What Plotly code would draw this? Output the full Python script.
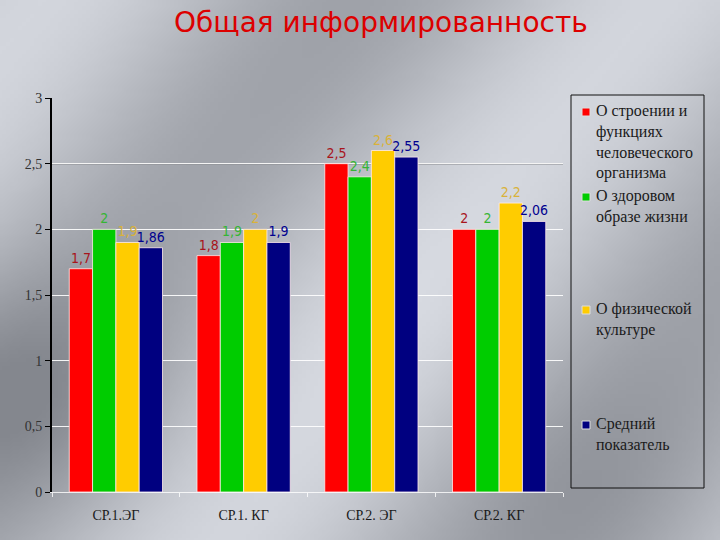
import base64, struct, zlib
import numpy as np
import plotly.graph_objects as go

categories = ["СР.1.ЭГ", "СР.1. КГ", "СР.2. ЭГ", "СР.2. КГ"]
series_names = ["О строении и функциях человеческого организма",
                "О здоровом образе жизни",
                "О физической культуре",
                "Средний показатель"]
legend_lines = [["О строении и", "функциях", "человеческого", "организма"],
                ["О здоровом", "образе жизни"],
                ["О физической", "культуре"],
                ["Средний", "показатель"]]
values = [
    [1.7, 1.8, 2.5, 2.0],
    [2.0, 1.9, 2.4, 2.0],
    [1.9, 2.0, 2.6, 2.2],
    [1.86, 1.9, 2.55, 2.06],
]
bar_colors = ["#FF0000", "#00CC00", "#FFCC00", "#000080"]
label_colors = ["#A8141C", "#35B535", "#D9B23A", "#00008F"]
y_ticks = [0, 0.5, 1, 1.5, 2, 2.5, 3]


def fmt(v):
    return ("%g" % v).replace(".", ",")


# metallic gradient background as an inline PNG
def make_bg(w=180, h=135):
    yy, xx = np.mgrid[0:h, 0:w]
    u = xx / w
    v = yy / h
    t = u * 0.9 + v * 0.55
    val = 188 + 26 * np.cos((t - 0.05) * 2 * np.pi * 1.3)
    val += -30 * np.exp(-(((u - 0.0) / 0.2) ** 2 + ((v - 0.72) / 0.22) ** 2))
    val += 6 * np.exp(-(((u - 0.45) / 0.25) ** 2 + ((v - 0.5) / 0.3) ** 2))
    val += -14 * np.exp(-(((u - 0.85) / 0.2) ** 2 + ((v - 0.95) / 0.25) ** 2))
    val = np.clip(val, 135, 228)
    r = val - 3
    g = val
    b = val + 7
    arr = np.stack([r, g, b], axis=-1).clip(0, 255).astype(np.uint8)
    raw = b"".join(b"\x00" + arr[i].tobytes() for i in range(h))

    def chunk(tag, data):
        c = struct.pack(">I", len(data)) + tag + data
        return c + struct.pack(">I", zlib.crc32(tag + data) & 0xFFFFFFFF)

    png = b"\x89PNG\r\n\x1a\n" + chunk(b"IHDR", struct.pack(">IIBBBBB", w, h, 8, 2, 0, 0, 0)) \
        + chunk(b"IDAT", zlib.compress(raw, 9)) + chunk(b"IEND", b"")
    return "data:image/png;base64," + base64.b64encode(png).decode()


W, H = 720, 540
L, R, T, B = 52, 157, 98, 48
pw, ph = W - L - R, H - T - B

fig = go.Figure()
for name, vals, col, lcol in zip(series_names, values, bar_colors, label_colors):
    fig.add_trace(go.Bar(
        x=categories, y=vals, name=name,
        marker=dict(color=col, line=dict(color="rgba(255,235,235,0.8)", width=1)),
        text=[fmt(v) for v in vals], textposition="outside", constraintext="none",
        textfont=dict(color=lcol, size=14, family="DejaVu Sans Condensed, DejaVu Sans"),
        cliponaxis=False, showlegend=False,
    ))

# legend drawn as a bordered box with annotations
lx0 = (571 - L) / pw
lx1 = (704 - L) / pw
ly0 = 1 - (488 - T) / ph
ly1 = 1 - (95 - T) / ph
fig.add_shape(type="rect", xref="paper", yref="paper", x0=lx0, x1=lx1, y0=ly0, y1=ly1,
              line=dict(color="#111111", width=1), fillcolor="rgba(0,0,0,0)")
item_tops = [112, 197, 310, 425]
for lines, col, ytop in zip(legend_lines, bar_colors, item_tops):
    fig.add_shape(type="rect", xref="paper", yref="paper",
                  x0=(582 - L) / pw, x1=(590 - L) / pw,
                  y0=1 - (ytop + 4 - T) / ph, y1=1 - (ytop - 4 - T) / ph,
                  fillcolor=col, line=dict(color="#DDDDDD", width=1))
    fig.add_annotation(xref="paper", yref="paper", x=(594 - L) / pw, y=1 - (ytop - 12 - T) / ph,
                       xanchor="left", yanchor="top", align="left", showarrow=False,
                       text="<br>".join(lines),
                       font=dict(family="Liberation Serif", size=16, color="#1a1a1a"))

fig.add_annotation(xref="paper", yref="paper", x=(381 - L) / pw, y=1 + (T - 22) / ph,
                   xanchor="center", yanchor="middle", showarrow=False,
                   text="Общая информированность",
                   font=dict(family="DejaVu Sans", size=28, color="#DD0000"))

fig.update_layout(
    width=W, height=H,
    margin=dict(l=L, r=R, t=T, b=B),
    barmode="group", bargap=0.27, bargroupgap=0,
    separators=", ",
    paper_bgcolor="#C0C3CA", plot_bgcolor="rgba(0,0,0,0)",
    images=[dict(source=make_bg(), xref="paper", yref="paper",
                 x=-L / pw, y=1 + T / ph, sizex=W / pw, sizey=H / ph,
                 xanchor="left", yanchor="top", sizing="stretch", layer="below")],
    xaxis=dict(showgrid=False, showline=True, linecolor="rgba(255,255,255,0.8)", linewidth=1,
               ticks="outside", tickson="boundaries", ticklen=4, tickcolor="rgba(255,255,255,0.8)",
               tickfont=dict(family="Liberation Serif", size=14, color="#1a1a1a"),
               ticklabelstandoff=10,
               range=[-0.5, 3.5]),
    yaxis=dict(range=[0, 3], tickvals=y_ticks, ticktext=[fmt(v) for v in y_ticks],
               showgrid=True, gridcolor="rgba(255,255,255,0.9)", gridwidth=1,
               showline=True, linecolor="#000000", linewidth=2,
               ticks="outside", ticklen=5, tickcolor="#000000",
               tickfont=dict(family="Liberation Serif", size=14, color="#333333"),
               zeroline=False),
    font=dict(family="Liberation Serif"),
)
# 2.5 gridline appears grey in the reference
fig.add_shape(type="line", xref="paper", yref="y", x0=0, x1=1, y0=2.5, y1=2.5,
              line=dict(color="#8A8C90", width=1.5), layer="below")

fig.write_html("out.html")
